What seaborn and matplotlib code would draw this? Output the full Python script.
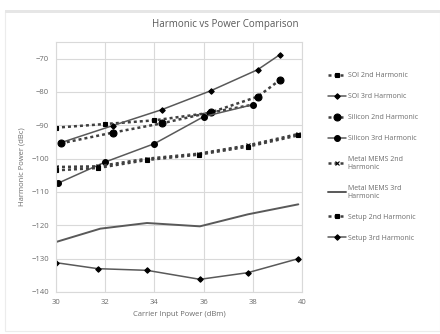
import numpy as np
import pandas as pd
import matplotlib.pyplot as plt
import seaborn as sns
from matplotlib.patches import Rectangle

# datos
soi_2nd_x = [30.0, 32.0, 34.0, 36.2, 38.0]
soi_2nd_y = [-90.7, -89.6, -88.5, -86.3, -83.8]
soi_3rd_x = [30.2, 32.3, 34.3, 36.3, 38.2, 39.1]
soi_3rd_y = [-95.2, -90.1, -85.3, -79.6, -73.3, -68.8]
si_2nd_x = [30.2, 32.3, 34.3, 36.3, 38.2, 39.1]
si_2nd_y = [-95.4, -92.2, -89.4, -86.1, -81.4, -76.4]
si_3rd_x = [30.1, 32.0, 34.0, 36.0, 38.0]
si_3rd_y = [-107.3, -101.0, -95.5, -87.4, -83.8]
mems_2nd_x = [30.0, 31.7, 33.7, 35.8, 37.8, 39.85]
mems_2nd_y = [-102.5, -102.3, -100.0, -98.5, -96.0, -92.6]
mems_3rd_x = [30.0, 31.8, 33.7, 35.85, 37.8, 39.85]
mems_3rd_y = [-125.0, -121.0, -119.3, -120.3, -116.7, -113.7]
setup_2nd_x = [30.0, 31.7, 33.7, 35.8, 37.8, 39.85]
setup_2nd_y = [-103.5, -102.8, -100.4, -98.8, -96.4, -93.0]
setup_3rd_x = [30.0, 31.7, 33.7, 35.85, 37.8, 39.85]
setup_3rd_y = [-131.2, -133.0, -133.5, -136.2, -134.2, -130.0]

labels = ['SOI 2nd Harmonic', 'SOI 3rd Harmonic', 'Silicon 2nd Harmonic',
          'Silicon 3rd Harmonic', 'Metal MEMS 2nd\nHarmonic', 'Metal MEMS 3rd\nHarmonic',
          'Setup 2nd Harmonic', 'Setup 3rd Harmonic']
xs = [soi_2nd_x, soi_3rd_x, si_2nd_x, si_3rd_x, mems_2nd_x, mems_3rd_x, setup_2nd_x, setup_3rd_x]
ys = [soi_2nd_y, soi_3rd_y, si_2nd_y, si_3rd_y, mems_2nd_y, mems_3rd_y, setup_2nd_y, setup_3rd_y]

dotted = (0, (1.2, 1.2))
estilos = [
    dict(ls=dotted, lw=1.8, marker='s', ms=3),
    dict(ls='-', lw=1.1, marker='D', ms=2.8),
    dict(ls=dotted, lw=1.8, marker='o', ms=5),
    dict(ls='-', lw=1.1, marker='o', ms=4.2),
    dict(ls=dotted, lw=1.8, marker='x', ms=3),
    dict(ls='-', lw=1.4, marker=None, ms=0),
    dict(ls=dotted, lw=1.8, marker='s', ms=3),
    dict(ls='-', lw=1.1, marker='D', ms=2.8),
]

sns.set_style("white")
plt.rcParams['font.family'] = ['Open Sans', 'DejaVu Sans']

fig = plt.figure(figsize=(4.4, 3.34), dpi=100)
ax = fig.add_axes([56 / 440, 1 - 292 / 334, 246 / 440, 250 / 334])

for x, y, lab, st in zip(xs, ys, labels, estilos):
    color = '#404040' if st['ls'] != '-' else '#595959'
    sns.lineplot(x=x, y=y, ax=ax, sort=False, label=lab, color=color,
                 linestyle=st['ls'], linewidth=st['lw'], marker=st['marker'],
                 markersize=st['ms'], markerfacecolor='black', markeredgecolor='black',
                 markeredgewidth=0.8)

ax.set_xlim(30, 40)
ax.set_ylim(-140, -65)
ax.set_xticks(np.arange(30, 41, 2))
ax.set_yticks(np.arange(-140, -69, 10))
ax.grid(True, color='#d9d9d9', linewidth=0.8)
for s in ax.spines.values():
    s.set_color('#d9d9d9')
    s.set_linewidth(0.8)
ax.tick_params(labelsize=5.5, colors='#6b6b6b', length=0, pad=5)

ax.set_xlabel('Carrier Input Power (dBm)', fontsize=5.5, color='#6b6b6b', labelpad=4)
ax.set_ylabel('Harmonic Power (dBc)', fontsize=5.5, color='#6b6b6b', labelpad=4)
fig.text(225 / 440, 1 - 25 / 334, 'Harmonic vs Power Comparison', fontsize=7,
         color='#595959', ha='center', va='center')

ax.legend(loc='center left', bbox_to_anchor=(322 / 440, 0.53), bbox_transform=fig.transFigure,
          frameon=False, fontsize=5, labelcolor='#6b6b6b', handlelength=2.5,
          labelspacing=2.0, handletextpad=0.3)

# marco gris claro alrededor
fig.patches.append(Rectangle((5 / 440, 1 - 331 / 334), 435 / 440, 320 / 334,
                             transform=fig.transFigure, fill=False,
                             edgecolor='#ececec', linewidth=0.8))
fig.patches.append(Rectangle((5 / 440, 1 - 13 / 334), 435 / 440, 3 / 334,
                             transform=fig.transFigure, color='#e6e6e6', linewidth=0))

fig.savefig('out.png', dpi=100)
